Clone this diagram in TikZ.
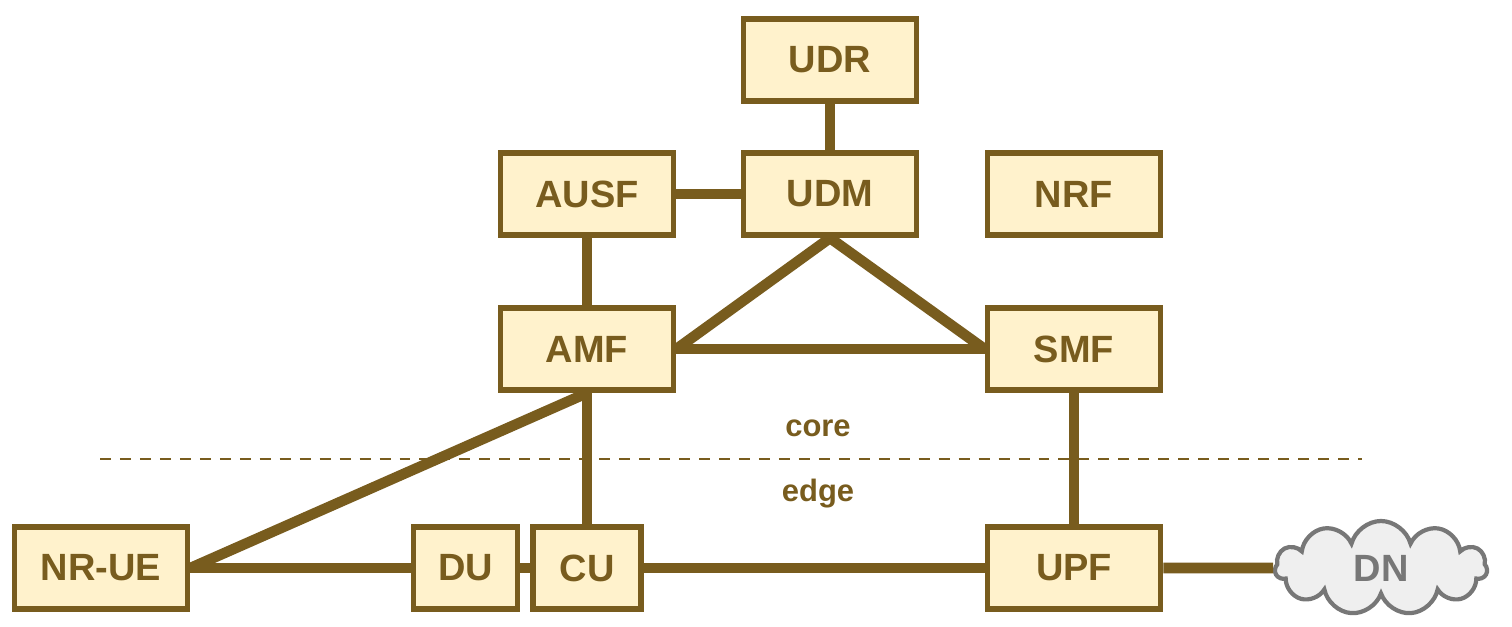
\documentclass[tikz,border=0pt]{standalone}
\usepackage{fontspec}
\setmainfont{Liberation Sans}
\usetikzlibrary{shapes.symbols}
\definecolor{nfline}{HTML}{785C1E}
\definecolor{nffill}{HTML}{FFF2CC}
\definecolor{dnline}{HTML}{777777}
\definecolor{dnfill}{HTML}{EFEFEF}
\tikzset{
    nf/.style={draw=nfline, fill=nffill, text=nfline, line width=4pt, inner sep=0pt,
        minimum width=4.33cm, minimum height=2.06cm, font=\fontsize{27}{32}\selectfont\bfseries},
    link/.style={draw=nfline, line width=7.5pt},
    zone/.style={text=nfline, font=\fontsize{22}{26}\selectfont\bfseries}
}
\begin{document}
\begin{tikzpicture}[x=0.025cm, y=-0.025cm]
        \useasboundingbox (0,0) rectangle (1512,626);
        % core network functions
        \node[nf] (udr) at (830,60) {UDR};
        \node[nf] (udm) at (830,194) {UDM};
        \node[nf] (ausf) at (587,194) {AUSF};
        \node[nf] (nrf) at (1074,194) {NRF};
        \node[nf] (amf) at (587,349) {AMF};
        \node[nf] (smf) at (1074,349) {SMF};
        
        % edge
        \node[nf] (ue) at (101,568) {NR-UE};
        \node[nf, minimum width=2.6cm] (du) at (465.5,568) {DU};
        \node[nf, minimum width=2.7cm] (cu) at (587,568) {CU};
        \node[nf] (upf) at (1074,568) {UPF};
        \node[cloud, cloud puffs=11, cloud ignores aspect, draw=dnline, fill=dnfill, text=dnline,
            line width=3pt, minimum width=5.3cm, minimum height=2.35cm,
            font=\fontsize{27}{32}\selectfont\bfseries] (dn) at (1381,568) {DN};
        
        % core / edge split
        \coordinate (splitl) at (100,459);
        \coordinate (splitr) at (1362,459);
        \draw[nfline, line width=2.1pt, dash pattern=on 7.8pt off 6.4pt] (splitl) -- (splitr);
        \node[zone] (core) at (818,428) {core};
        \node[zone] (edge) at (818,494) {edge};
        
        % links
        \draw[link] (udr.south) -- (udm.north);
        \draw[link] (ausf.east) -- (udm.west);
        \draw[link] (ausf.south) -- (amf.north);
        \draw[link] (udm.south) -- (amf.east);
        \draw[link] (udm.south) -- (smf.west);
        \draw[link] (amf.east) -- (smf.west);
        \draw[link] (amf.south) -- (ue.east);
        \draw[link] (amf.south) -- (cu.north);
        \draw[link] (ue.east) -- (du.west);
        \draw[link] (du.east) -- (cu.west);
        \draw[link] (cu.east) -- (upf.west);
        \draw[link] (smf.south) -- (upf.north);
        \draw[link] (upf.east) -- (dn.west);
    \end{tikzpicture}
\end{document}
